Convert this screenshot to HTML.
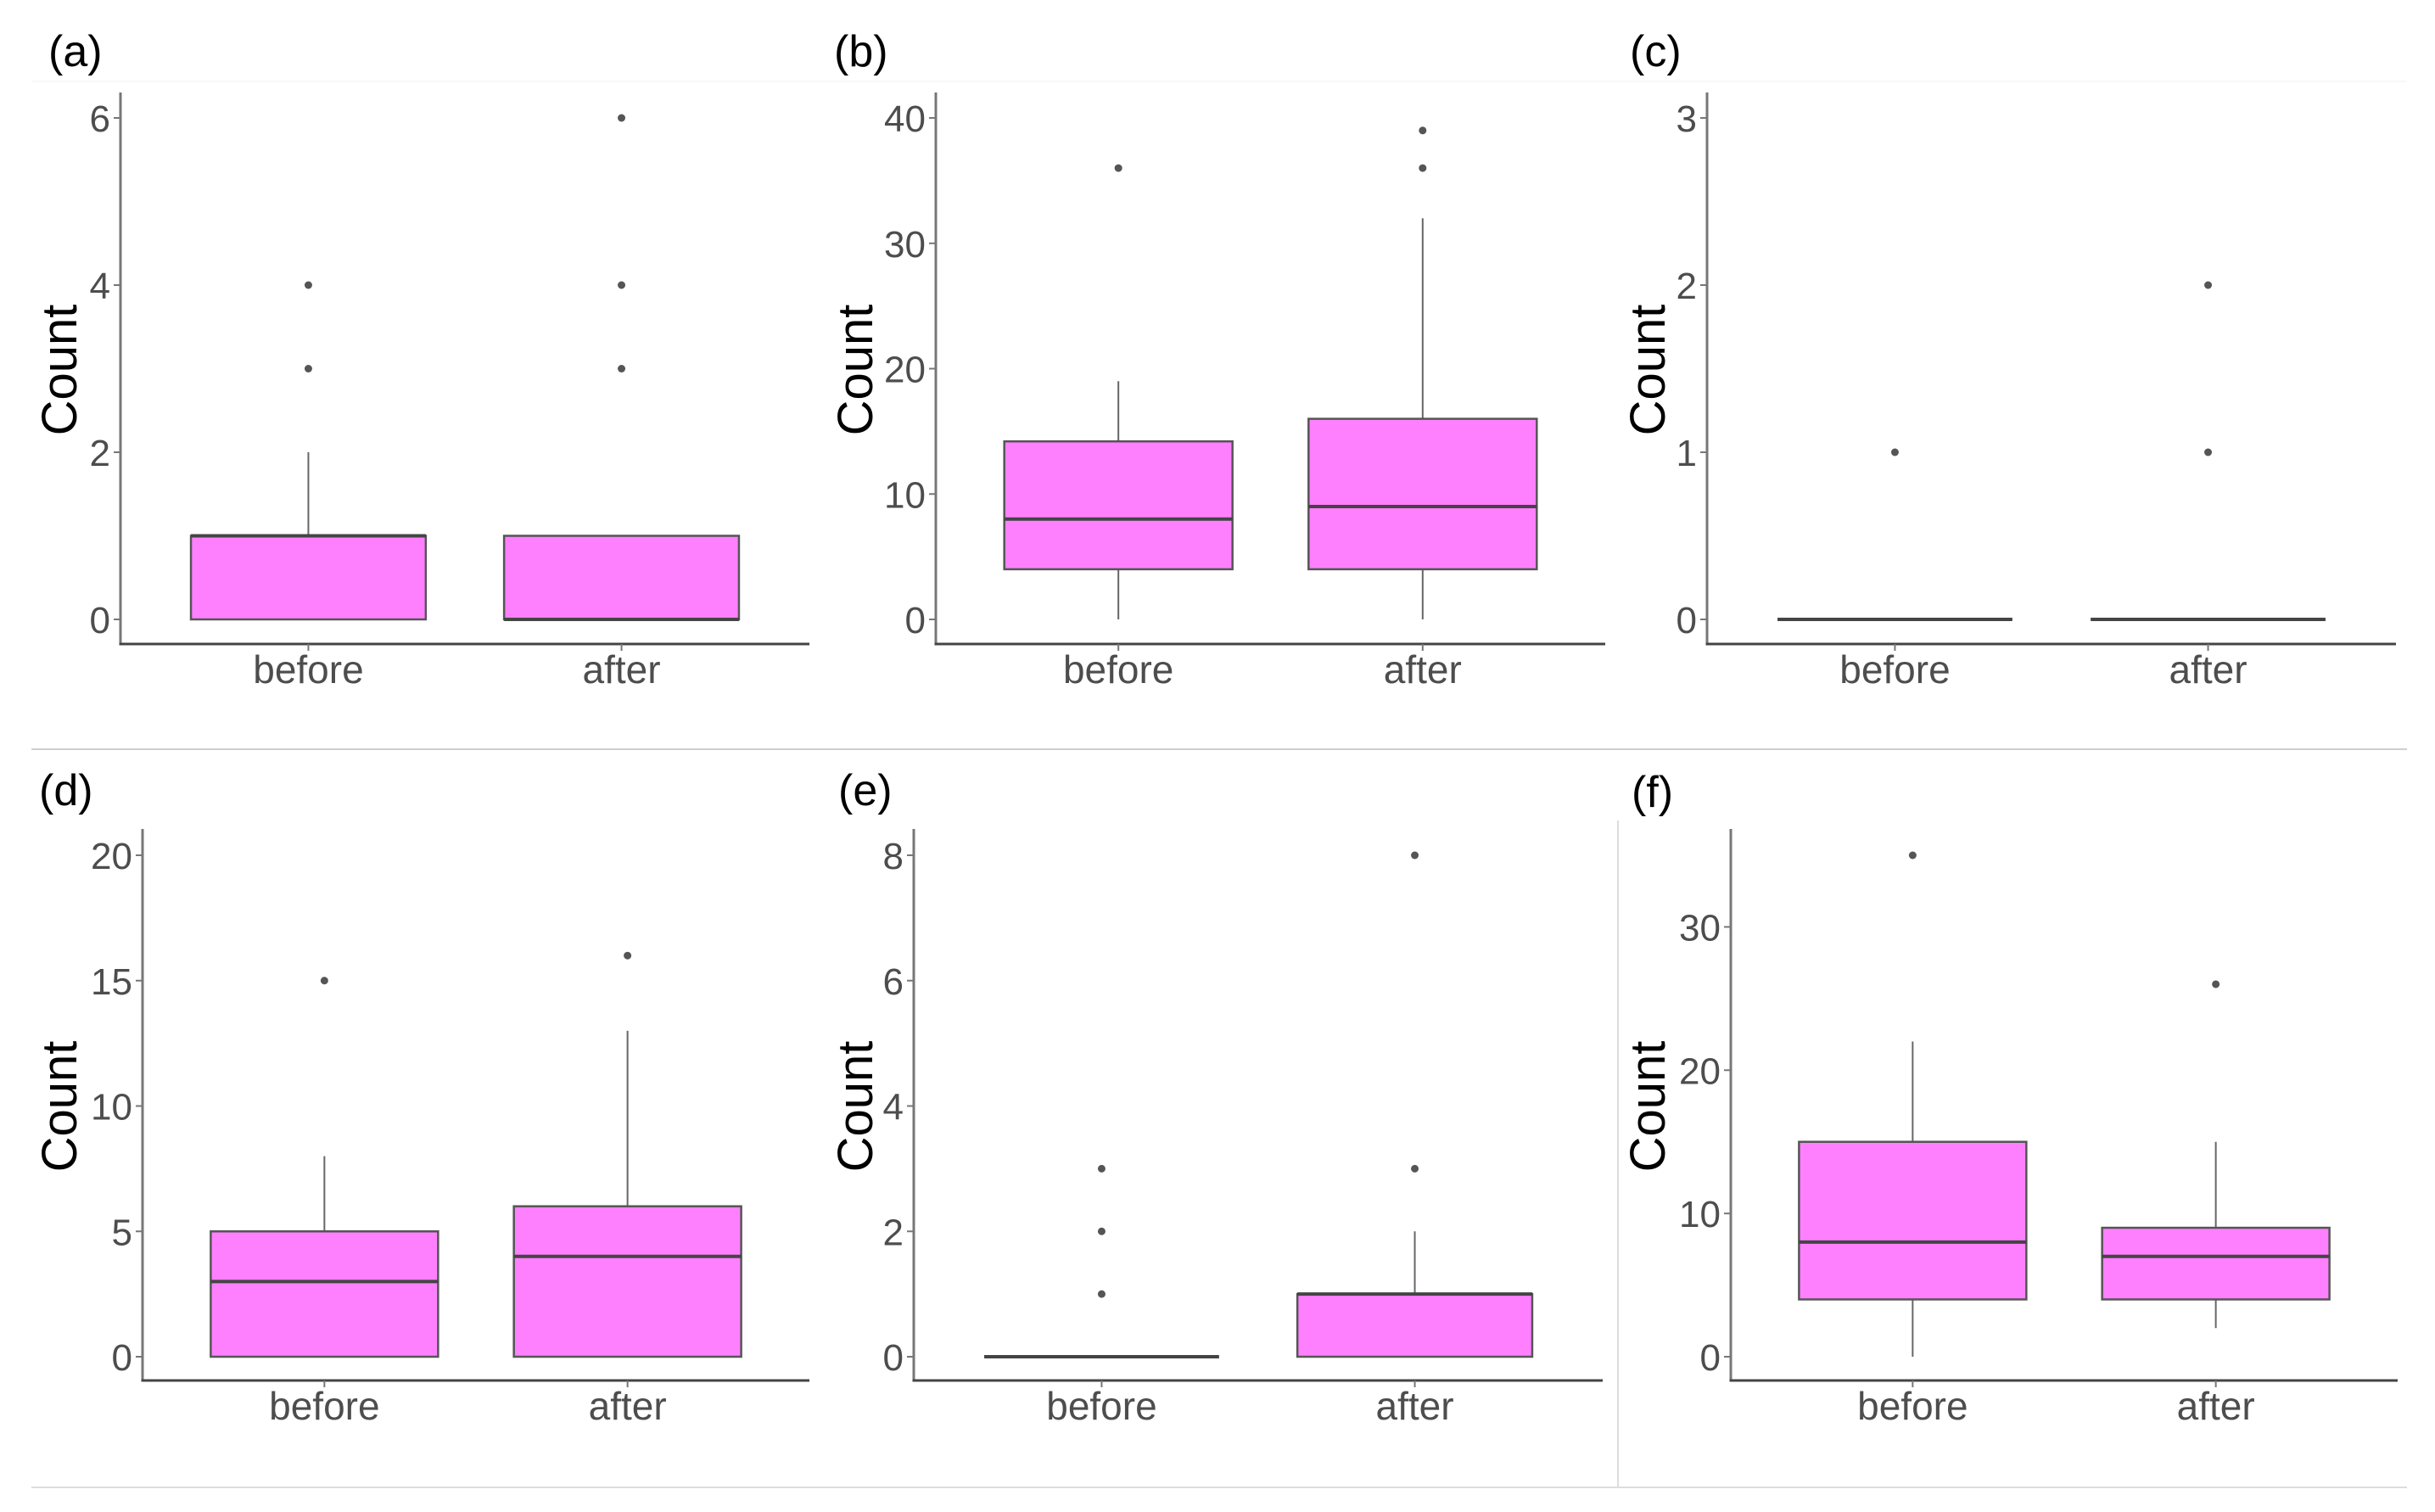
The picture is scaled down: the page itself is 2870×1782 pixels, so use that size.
<!DOCTYPE html>
<html><head><meta charset="utf-8"><style>
html,body{margin:0;padding:0;background:#fff;}
svg{display:block;}
text{font-family:"Liberation Sans",sans-serif;}
</style></head><body>
<svg id="fig" width="2870" height="1782" viewBox="0 0 2870 1782" xmlns="http://www.w3.org/2000/svg">
<line x1="37" y1="96" x2="2837" y2="96" stroke="#f8f8f8" stroke-width="2"/>
<line x1="37" y1="883" x2="2837" y2="883" stroke="#cfcfcf" stroke-width="2"/>
<line x1="37" y1="1753" x2="2837" y2="1753" stroke="#dddddd" stroke-width="2"/>
<line x1="1907" y1="967" x2="1907" y2="1753" stroke="#dddddd" stroke-width="2"/>
</svg>
<script>
// ---- data ----
var categories = ["before", "after"];
var panelLabels = ["(a)", "(b)", "(c)", "(d)", "(e)", "(f)"];
var yMax = [6, 40, 3, 20, 8, 35];
var tickA = [0, 2, 4, 6];
var tickB = [0, 10, 20, 30, 40];
var tickC = [0, 1, 2, 3];
var tickD = [0, 5, 10, 15, 20];
var tickE = [0, 2, 4, 6, 8];
var tickF = [0, 10, 20, 30];
// [whiskerLow, q1, median, q3, whiskerHigh] per category
var statsA = [[0, 0, 1, 1, 2], [0, 0, 0, 1, 1]];
var statsB = [[0, 4, 8, 14.2, 19], [0, 4, 9, 16, 32]];
var statsC = [[0, 0, 0, 0, 0], [0, 0, 0, 0, 0]];
var statsD = [[0, 0, 3, 5, 8], [0, 0, 4, 6, 13]];
var statsE = [[0, 0, 0, 0, 0], [0, 0, 1, 1, 2]];
var statsF = [[0, 4, 8, 15, 22], [2, 4, 7, 9, 15]];
var outA = [[3, 4], [3, 4, 6]];
var outB = [[36], [36, 39]];
var outC = [[1], [1, 2]];
var outD = [[15], [16]];
var outE = [[1, 2, 3], [3, 8]];
var outF = [[35], [26]];

var ticks = [tickA, tickB, tickC, tickD, tickE, tickF];
var stats = [statsA, statsB, statsC, statsD, statsE, statsF];
var outs = [outA, outB, outC, outD, outE, outF];

// ---- layout ----
var layout = [
  {l:142, r:954, y0:730, top:109, ax:759, lx:57, ly:60, cx:70},
  {l:1103, r:1892, y0:730, top:109, ax:759, lx:983, ly:60, cx:1008},
  {l:2012, r:2824, y0:730, top:109, ax:759, lx:1921, ly:60, cx:1942},
  {l:168, r:954, y0:1599, top:977, ax:1627, lx:46, ly:931, cx:70},
  {l:1077, r:1889, y0:1599, top:977, ax:1627, lx:988, ly:931, cx:1008},
  {l:2040, r:2826, y0:1599, top:977, ax:1627, lx:1923, ly:933, cx:1942}
];
var SPAN = 591;
var NS = "http://www.w3.org/2000/svg";
var svg = document.getElementById('fig');
function mk(tag, attrs, parent) {
  var e = document.createElementNS(NS, tag);
  for (var k in attrs) e.setAttribute(k, attrs[k]);
  (parent || svg).appendChild(e);
  return e;
}
for (var p = 0; p < 6; p++) {
  var L = layout[p];
  var g = mk('g', {});
  
  
  var u = (L.r - L.l) / 2.2;
  var xs = function (i) { return L.l + (0.6 + i) * u; };
  var ys = (function (L, m) { return function (v) { return L.y0 - v * SPAN / m; }; })(L, yMax[p]);

  var lab = mk('text', {x: L.lx, y: L.ly + 18, 'font-size': 52, fill: '#000'}, g);
  lab.textContent = panelLabels[p];
  
  

  var yt = mk('text', {x: 0, y: 0, 'font-size': 58, fill: '#000', 'text-anchor': 'middle',
    transform: 'translate(' + (L.cx + 20) + ',' + ((L.top + L.ax) / 2 + 2) + ') rotate(-90)'}, g);
  yt.textContent = 'Count';
  
  

  var ya = mk('line', {x1: L.l, y1: L.top, x2: L.l, y2: L.ax + 1.5, stroke: '#777', 'stroke-width': 3}, g);
  
  
  var xa = mk('line', {x1: L.l - 1.5, y1: L.ax, x2: L.r, y2: L.ax, stroke: '#444', 'stroke-width': 3}, g);
  
  

  ticks[p].forEach(function (t) {
    var y = ys(t);
    var tk = mk('line', {x1: L.l - 8, y1: y, x2: L.l, y2: y, stroke: '#777', 'stroke-width': 2}, g);
    
    
    var tl = mk('text', {x: L.l - 12, y: y + 16, 'font-size': 44, fill: '#4d4d4d', 'text-anchor': 'end'}, g);
    tl.textContent = t;
    
    
  });

  categories.forEach(function (c, i) {
    var x = xs(i);
    var tk = mk('line', {x1: x, y1: L.ax, x2: x, y2: L.ax + 8, stroke: '#777', 'stroke-width': 2}, g);
    
    
    var tl = mk('text', {x: x, y: L.ax + 46, 'font-size': 46, fill: '#4d4d4d', 'text-anchor': 'middle'}, g);
    tl.textContent = c;
    
    

    var s = stats[p][i];
    var hw = 0.375 * u;
    var w1 = mk('line', {x1: x, y1: ys(s[3]), x2: x, y2: ys(s[4]), stroke: '#666', 'stroke-width': 2}, g);
    
    
    var w2 = mk('line', {x1: x, y1: ys(s[0]), x2: x, y2: ys(s[1]), stroke: '#666', 'stroke-width': 2}, g);
    
    
    var bx = mk('rect', {x: x - hw, y: ys(s[3]), width: 2 * hw, height: Math.max(0, ys(s[1]) - ys(s[3])),
      fill: '#ff80ff', stroke: '#555', 'stroke-width': 2.5}, g);
    
    
    var md = mk('line', {x1: x - hw, y1: ys(s[2]), x2: x + hw, y2: ys(s[2]), stroke: '#444', 'stroke-width': 4}, g);
    
    
    outs[p][i].forEach(function (o) {
      var pt = mk('circle', {cx: x, cy: ys(o), r: 4.5, fill: '#555'}, g);
      
      
    });
  });
}
</script>
</body></html>
